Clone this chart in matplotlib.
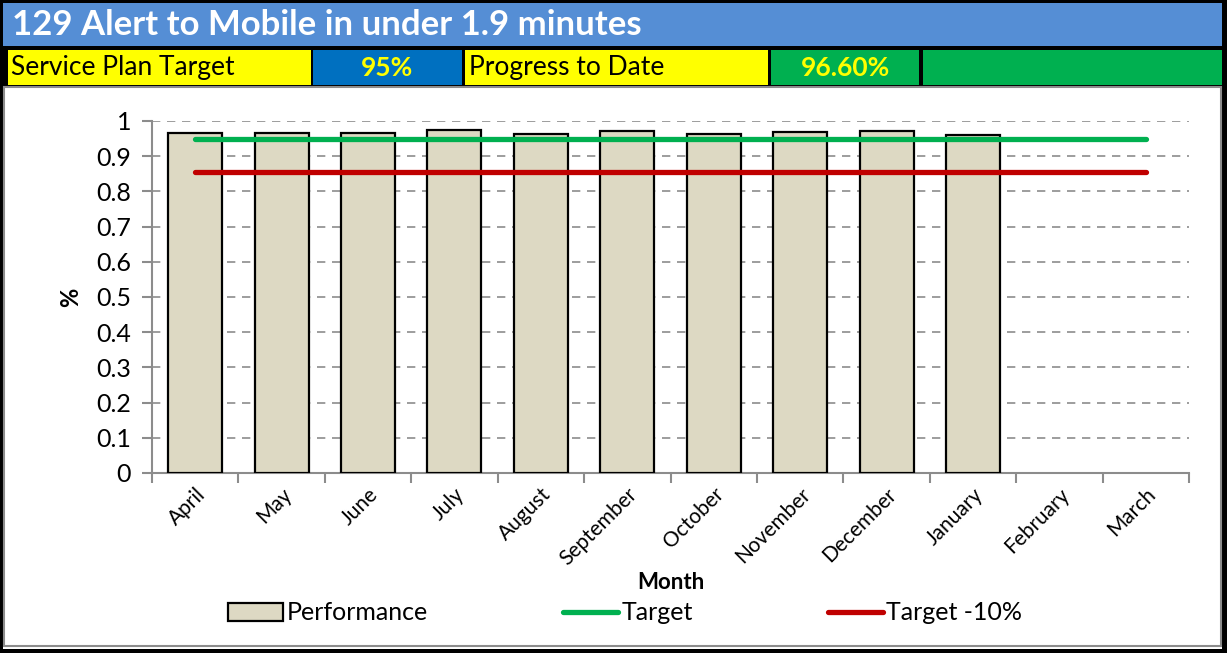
import matplotlib
matplotlib.use("Agg")
import matplotlib.pyplot as plt
from matplotlib.patches import Rectangle
from matplotlib.lines import Line2D
import numpy as np

plt.rcParams["font.family"] = ["Lato", "DejaVu Sans"]

months = ["April", "May", "June", "July", "August", "September", "October",
          "November", "December", "January", "February", "March"]
performance = [0.967, 0.966, 0.966, 0.974, 0.963, 0.972, 0.963, 0.968, 0.973, 0.961]
target = [0.95] * 12
target_minus_10 = [0.855] * 12
title_text = "129 Alert to Mobile in under 1.9 minutes"
plan_target = "95%"
progress = "96.60%"

W, H = 1227, 653
fig = plt.figure(figsize=(W / 100, H / 100), dpi=100)


def px_rect(x0, y0, x1, y1, **kw):
    # rectangle in pixel coords (top-left origin) on the figure
    r = Rectangle((x0 / W, 1 - y1 / H), (x1 - x0) / W, (y1 - y0) / H,
                  transform=fig.transFigure, zorder=-10, **kw)
    fig.add_artist(r)
    return r


def px_text(x, y, s, **kw):
    fig.text(x / W, 1 - y / H, s, **kw)


# header
px_rect(0, 0, W, 88, facecolor="black", edgecolor="none")
px_rect(3, 3, 1222, 46, facecolor="#558ED5", edgecolor="none")
px_text(12, 25, title_text, color="white", fontsize=25, fontweight="bold", va="center")

cells = [(8, 311, "#FFFF00"), (313, 462, "#0070C0"), (465, 768, "#FFFF00"),
         (771, 919, "#00B050"), (923, 1222, "#00B050")]
for x0, x1, c in cells:
    px_rect(x0, 50, x1, 85, facecolor=c, edgecolor="none")
px_text(11, 68, "Service Plan Target", fontsize=19, va="center", color="black")
px_text(387, 68, plan_target, fontsize=19, fontweight="bold", va="center",
        ha="center", color="#FFFF00")
px_text(469, 68, "Progress to Date", fontsize=19, va="center", color="black")
px_text(845, 68, progress, fontsize=19, fontweight="bold", va="center",
        ha="center", color="#FFFF00")

# chart area frame
px_rect(0, 85, 3, H, facecolor="black", edgecolor="none")
px_rect(1222, 85, W, H, facecolor="black", edgecolor="none")
px_rect(0, 649, W, H, facecolor="black", edgecolor="none")
px_rect(4, 87, 1221, 646, facecolor="white", edgecolor="#8C8C8C", linewidth=1.5)

ax = fig.add_axes([152 / W, 1 - 473 / H, (1189 - 152) / W, (473 - 121) / H])
ax.patch.set_visible(False)
x = np.arange(len(months))
ax.bar(x[:len(performance)], performance, width=0.625, color="#DDD9C3",
       edgecolor="black", linewidth=1.6, zorder=3)
ax.plot(x, target, color="#00B050", lw=3.8, solid_capstyle="round", zorder=4)
ax.plot(x, target_minus_10, color="#C00000", lw=3.8, solid_capstyle="round", zorder=4)

ax.set_xlim(-0.5, len(months) - 0.5)
ax.set_ylim(0, 1)
ax.set_yticks(np.arange(0, 1.01, 0.1))
ax.set_yticklabels(["0", "0.1", "0.2", "0.3", "0.4", "0.5", "0.6", "0.7",
                    "0.8", "0.9", "1"], fontsize=18)
ax.yaxis.grid(True, color="#8C8C8C", linestyle=(0, (5, 4)), linewidth=1.2, zorder=0)
ax.set_xticks(np.arange(-0.5, len(months), 1.0))
ax.set_xticklabels([])
ax.set_xticks(x, minor=True)
ax.set_xticklabels(months, minor=True, rotation=45, ha="right", va="top",
                   rotation_mode="anchor", fontsize=15)
ax.tick_params(axis="x", which="minor", length=0, pad=8)
ax.tick_params(axis="x", which="major", length=7, width=1.5, color="#8C8C8C",
               direction="out")
ax.tick_params(axis="y", length=7, width=1.5, color="#8C8C8C", direction="out", pad=8)
for s in ["top", "right"]:
    ax.spines[s].set_visible(False)
for s in ["left", "bottom"]:
    ax.spines[s].set_color("#8C8C8C")
    ax.spines[s].set_linewidth(1.5)
ax.set_xlabel("Month", fontsize=16, fontweight="bold", labelpad=2)
ax.set_ylabel("%", fontsize=17, fontweight="bold", labelpad=10)

handles = [Rectangle((0, 0), 1, 1, facecolor="#DDD9C3", edgecolor="black", linewidth=1.6),
           Line2D([], [], color="#00B050", lw=3.8, solid_capstyle="round"),
           Line2D([], [], color="#C00000", lw=3.8, solid_capstyle="round")]
fig.legend(handles, ["Performance", "Target", "Target -10%"], ncol=3,
           loc="center", bbox_to_anchor=(625 / W, 1 - 613 / H), frameon=False,
           fontsize=18, handlelength=2.2, handletextpad=0.15, columnspacing=5.4)

fig.savefig("out.png", dpi=100)
